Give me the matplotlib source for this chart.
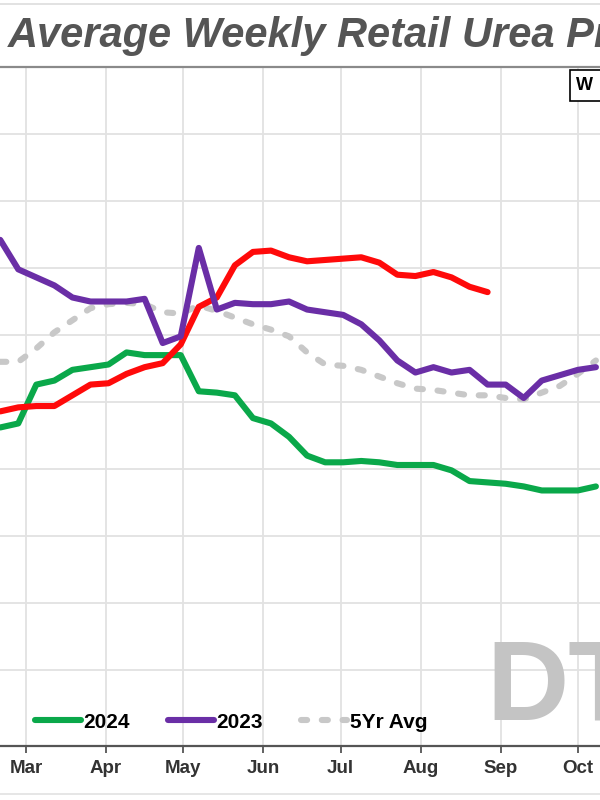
import matplotlib
matplotlib.use('Agg')
import matplotlib.pyplot as plt
import matplotlib.dates as mdates
import pandas as pd
from matplotlib.lines import Line2D
from matplotlib.patches import Rectangle

# weekly retail urea price, $/ton
weeks = pd.date_range('2025-02-19', periods=34, freq='7D')
months = pd.date_range('2025-03-01', periods=8, freq='MS')

p2025 = [593, 596, 597, 597, 605, 613, 614, 621, 626, 629, 643, 671, 678, 702,
         712, 713, 708, 705, 706, 707, 708, 704, 695, 694, 697, 693, 686, 682]
p2024 = [581, 584, 613, 616, 624, 626, 628, 637, 635, 635, 635, 608, 607, 605,
         588, 584, 574, 560, 555, 555, 556, 555, 553, 553, 553, 549, 541, 540,
         539, 537, 534, 534, 534, 537]
p2023 = [721, 699, 693, 687, 678, 675, 675, 675, 677, 644, 649, 715, 669, 674,
         673, 673, 675, 669, 667, 665, 658, 646, 631, 622, 626, 622, 624, 613,
         613, 603, 616, 620, 624, 626]
avg5 = [630, 630, 640, 652, 661, 670, 673, 674, 673, 667, 666, 672, 668, 663,
        658, 654, 649, 637, 628, 627, 624, 619, 614, 610, 609, 607, 605, 605,
        603, 602, 607, 612, 621, 631]

plt.rcParams['font.family'] = ['Liberation Sans', 'DejaVu Sans']

fig = plt.figure(figsize=(6, 8), dpi=100, facecolor='white')
ax = fig.add_axes([0, 54 / 800, 1, 679 / 800])

l5, = ax.plot(weeks, avg5, color='#c8c8c8', lw=4.4, dashes=(1.0, 2.4),
              dash_capstyle='round', label='5Yr Avg', zorder=2)
l24, = ax.plot(weeks, p2024, color='#0aa84a', lw=4.4, solid_capstyle='round',
               solid_joinstyle='round', label='2024', zorder=3)
ax.plot(weeks[:len(p2025)], p2025, color='#ff0a0a', lw=4.4, solid_capstyle='round',
        solid_joinstyle='round', zorder=4)
l23, = ax.plot(weeks, p2023, color='#6a2ea6', lw=4.4, solid_capstyle='round',
               solid_joinstyle='round', label='2023', zorder=5)

ax.set_xticks(months)
ax.set_yticks(range(400, 850, 50))
ax.set_xlim(pd.Timestamp('2025-02-18 22:00'), pd.Timestamp('2025-10-09 14:00'))
ax.set_ylim(343.3, 850)
ax.xaxis.set_major_formatter(mdates.DateFormatter('%b'))
ax.grid(True, color='#e2e2e2', lw=1.3)
ax.set_axisbelow(True)
ax.tick_params(axis='y', left=False, labelleft=False)
ax.tick_params(axis='x', direction='out', length=5, width=1.3, color='#555555',
               pad=5, labelsize=13.5, labelcolor='#333333')
for t in ax.get_xticklabels():
    t.set_fontweight('bold')
for s in ['left', 'right']:
    ax.spines[s].set_visible(False)
ax.spines['bottom'].set_color('#555555')
ax.spines['bottom'].set_linewidth(1.6)
ax.spines['top'].set_color('#8a8a8a')
ax.spines['top'].set_linewidth(1.6)

ax.legend(handles=[l24, l23, l5], loc='center left', bbox_to_anchor=(25 / 600, 78 / 800),
          bbox_transform=fig.transFigure, ncol=3, frameon=False, borderpad=0,
          handlelength=2.2, handletextpad=0.12, columnspacing=1.83,
          prop={'weight': 'bold', 'size': 15})

# DTN watermark
fig.text(486 / 600, 80 / 800, 'DTN', fontsize=82, fontweight='bold', color='#c4c4c4',
         ha='left', va='baseline', zorder=1)

# title band
fig.text(8 / 600, 1 - 47 / 800, 'Average Weekly Retail Urea Prices', fontsize=30,
         fontweight='bold', fontstyle='italic', color='#555555', va='baseline')
fig.add_artist(Line2D([0, 1], [1 - 4 / 800, 1 - 4 / 800], color='#dddddd', lw=1.2))
fig.add_artist(Line2D([0, 1], [1 - 794 / 800, 1 - 794 / 800], color='#e2e2e2', lw=1.2))

# partial key box in the top right corner
fig.add_artist(Rectangle((570 / 600, 1 - 101 / 800), 40 / 600, 31 / 800,
                         fc='white', ec='black', lw=1.2))
fig.text(576 / 600, 1 - 86 / 800, 'W', fontsize=13, fontweight='bold', va='center')

plt.savefig('out.png', dpi=100, facecolor='white')
